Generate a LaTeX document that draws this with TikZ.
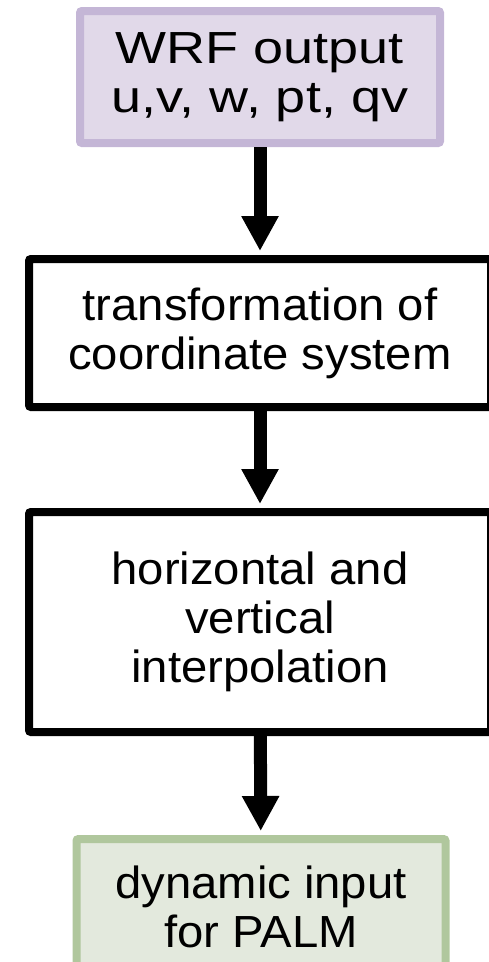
\documentclass[tikz,border=0pt]{standalone}
\usepackage{fontspec}
\setmainfont{Liberation Sans}[FakeStretch=1.05]
\newfontfamily\wrffont{Liberation Sans}[FakeStretch=1.2]
\usetikzlibrary{arrows.meta}
\definecolor{wrffill}{RGB}{225,217,233}
\definecolor{wrfline}{RGB}{196,182,214}
\definecolor{palmfill}{RGB}{227,233,221}
\definecolor{palmline}{RGB}{176,199,157}
\begin{document}
\begin{tikzpicture}[x=1pt, y=-1pt, >={Triangle[length=35pt, width=35pt]},
    stepbox/.style={rectangle, draw, line width=8pt, rounded corners=2pt,
      align=center, inner sep=0pt, font=\fontsize{45}{49}\selectfont},
    inbox/.style={stepbox, draw=wrfline, fill=wrffill,
      font=\wrffont\fontsize{45}{49}\selectfont},
    outbox/.style={stepbox, draw=palmline, fill=palmfill},
    flow/.style={->, line width=13pt, shorten >=4pt}]
  % Frame of the picture (boxes run over the right and lower edge)
  \useasboundingbox (0,0) rectangle (489,962);
  \clip (0,0) rectangle (489,962);

  % Steps placed vertically
  \node[inbox, minimum width=360pt, minimum height=132pt] (wrf) at (260,77)
    {WRF output\\u,v, w, pt, qv};
  \node[stepbox, minimum width=462pt, minimum height=148pt] (trans) at (260,333)
    {transformation of\\coordinate system};
  \node[stepbox, minimum width=462pt, minimum height=220pt] (interp) at (260,622)
    {horizontal and\\vertical\\interpolation};
  \node[outbox, minimum width=369pt, minimum height=136pt] (palm) at (261,907)
    {dynamic input\\for PALM};

  % Arrows between the steps
  \draw[flow] (wrf) -- (trans);
  \draw[flow] (trans) -- (interp);
  \draw[flow] (interp) -- (palm);
\end{tikzpicture}
\end{document}
